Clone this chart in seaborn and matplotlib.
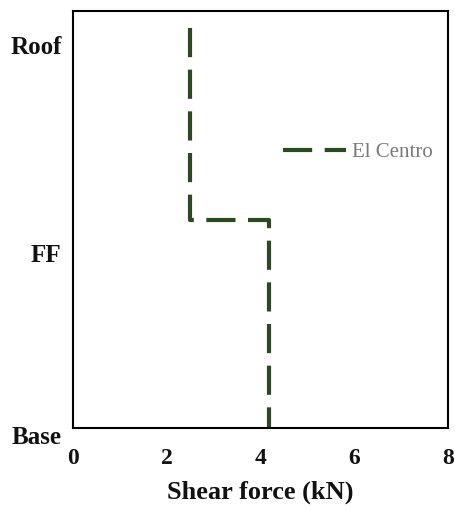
import matplotlib
matplotlib.use("Agg")
import matplotlib.pyplot as plt
import matplotlib.transforms as mtransforms
import seaborn as sns
import pandas as pd

# Data
shear_force = [2.49, 2.49, 4.18, 4.18]      # kN
height = [9.6, 5.0, 5.0, 0.0]               # relative height
series_name = "El Centro"
x_ticks = [0, 2, 4, 6, 8]
y_tick_pos = [0.0, 4.2, 9.2]
y_tick_labels = ["Base", "FF", "Roof"]

df = pd.DataFrame({"Shear force": shear_force, "Height": height,
                   "order": range(len(shear_force)), "Record": series_name})

sns.set_theme(style="white")
plt.rcParams["font.family"] = ["Liberation Serif", "DejaVu Serif"]
plt.rcParams["text.color"] = "#111111"
plt.rcParams["xtick.color"] = "#111111"
plt.rcParams["ytick.color"] = "#111111"
plt.rcParams["axes.labelcolor"] = "#111111"

fig = plt.figure(figsize=(4.55, 5.09), dpi=100)
ax = fig.add_axes([0.160, 0.159, 0.825, 0.819])

sns.lineplot(data=df, x="Shear force", y="Height", sort=False, estimator=None,
             units="Record", color="#2b4a22", linewidth=3.0, ax=ax,
             label=series_name)
ax.lines[0].set_dashes([7.0, 3.0])

ax.set_xlim(0, 8)
ax.set_ylim(0, 10)
ax.set_xticks(x_ticks)
ax.set_xticklabels([str(t) for t in x_ticks], fontsize=17, fontweight="bold")
ax.set_yticks(y_tick_pos)
ax.set_yticklabels(y_tick_labels, fontsize=18, fontweight="bold")
ax.tick_params(axis="both", length=0, colors="#111111")
ax.tick_params(axis="y", pad=8)
ax.tick_params(axis="x", pad=14)
ax.set_xlabel("Shear force (kN)", fontsize=19, fontweight="bold", labelpad=9)
ax.set_ylabel("")

# nudge the "Base" label slightly downward as in the reference
base_lbl = ax.get_yticklabels()[0]
base_lbl.set_transform(base_lbl.get_transform() +
                       mtransforms.ScaledTranslation(0, -5 / 72, fig.dpi_scale_trans))

for s in ax.spines.values():
    s.set_color("black")
    s.set_linewidth(1.5)
    s.set_visible(True)

leg = ax.legend(loc="center left", bbox_to_anchor=(0.511, 0.662), frameon=False,
                fontsize=15, handlelength=3.0, handletextpad=0.3)
for t in leg.get_texts():
    t.set_color("#7a7a7a")

fig.savefig("out.png", dpi=100)
